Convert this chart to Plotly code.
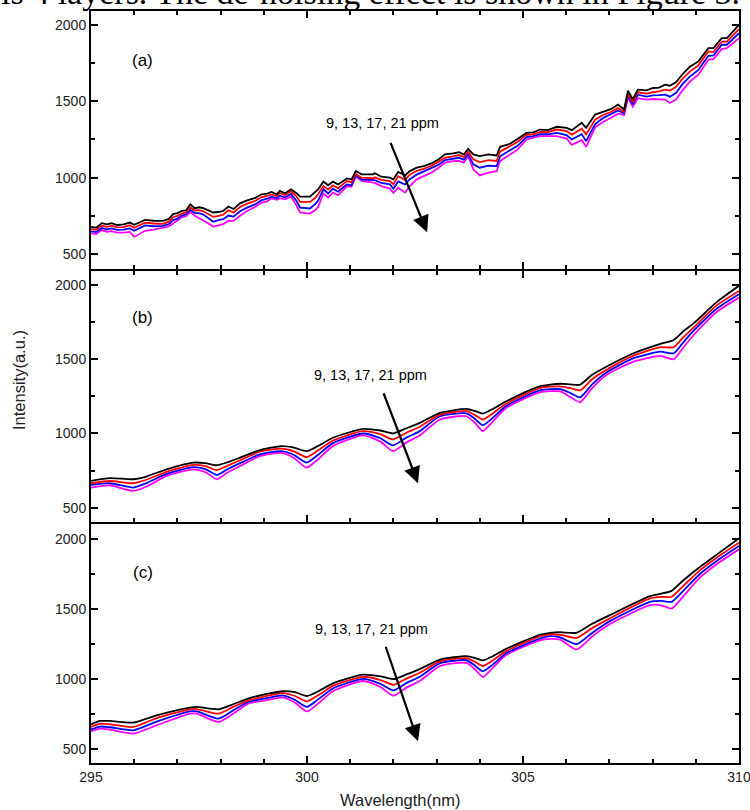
import plotly.graph_objects as go

# ---------------- data ----------------
wl_a = [295.0, 295.12, 295.25, 295.37, 295.48, 295.6, 295.75, 295.9, 296.0, 296.12,
        296.25, 296.45, 296.67, 296.8, 296.9, 297.0, 297.1, 297.2, 297.3, 297.4,
        297.5, 297.6, 297.72, 297.83, 297.95, 298.06, 298.18, 298.3, 298.45, 298.6,
        298.8, 298.95, 299.08, 299.18, 299.3, 299.37, 299.49, 299.63, 299.75, 299.84,
        300.07, 300.2, 300.26, 300.38, 300.49, 300.6, 300.72, 300.92, 301.03, 301.13,
        301.26, 301.4, 301.53, 301.57, 301.72, 301.92, 302.0, 302.11, 302.27, 302.38,
        302.54, 302.7, 302.88, 303.05, 303.19, 303.38, 303.52, 303.63, 303.73, 303.85,
        304.0, 304.2, 304.39, 304.47, 304.7, 304.88, 305.08, 305.24, 305.39, 305.58,
        305.78, 306.01, 306.13, 306.36, 306.46, 306.67, 306.85, 307.03, 307.2, 307.34,
        307.43, 307.54, 307.66, 307.86, 308.01, 308.15, 308.29, 308.4, 308.54, 308.7,
        308.87, 309.06, 309.29, 309.41, 309.6, 309.72, 310.0]
a_9ppm = [678, 672, 702, 694, 702, 690, 694, 706, 691, 705,
          724, 718, 717, 730, 761, 768, 782, 786, 826, 800,
          806, 800, 784, 772, 775, 782, 811, 795, 832, 850,
          868, 891, 896, 906, 891, 913, 898, 924, 900, 876,
          876, 905, 924, 974, 950, 974, 956, 995, 989, 1043,
          1022, 1022, 1022, 1029, 1006, 1000, 989, 1037, 1015, 1043,
          1065, 1075, 1093, 1120, 1152, 1159, 1167, 1152, 1189, 1152,
          1141, 1152, 1145, 1202, 1222, 1254, 1293, 1297, 1315, 1311,
          1333, 1326, 1311, 1359, 1326, 1413, 1430, 1448, 1478, 1446,
          1570, 1513, 1576, 1572, 1587, 1590, 1609, 1602, 1624, 1680,
          1728, 1761, 1848, 1848, 1913, 1913, 2000]
a_13ppm = [663, 658, 686, 678, 686, 675, 676, 688, 672, 686,
           705, 700, 698, 712, 741, 750, 765, 772, 805, 785,
           788, 780, 760, 743, 750, 757, 786, 772, 808, 828,
           848, 873, 880, 890, 878, 898, 885, 911, 880, 841,
           841, 870, 893, 945, 922, 950, 930, 978, 970, 1023,
           1000, 1000, 996, 1002, 985, 978, 956, 1010, 985, 1020,
           1045, 1058, 1078, 1105, 1130, 1140, 1148, 1135, 1170, 1120,
           1102, 1115, 1109, 1170, 1205, 1235, 1280, 1283, 1300, 1298,
           1315, 1305, 1282, 1320, 1283, 1380, 1410, 1430, 1455, 1430,
           1550, 1495, 1559, 1550, 1559, 1565, 1576, 1570, 1594, 1650,
           1696, 1735, 1826, 1822, 1891, 1890, 1972]
a_17ppm = [648, 644, 670, 662, 668, 658, 660, 668, 652, 668,
           687, 682, 684, 696, 722, 732, 752, 760, 790, 768,
           768, 758, 735, 711, 722, 728, 752, 745, 780, 802,
           825, 853, 862, 875, 865, 882, 870, 893, 850, 804,
           798, 830, 852, 924, 896, 928, 908, 955, 950, 1015,
           988, 985, 982, 984, 965, 956, 928, 975, 955, 990,
           1020, 1040, 1059, 1085, 1115, 1125, 1130, 1118, 1155, 1087,
           1065, 1078, 1076, 1140, 1180, 1210, 1265, 1272, 1285, 1284,
           1293, 1278, 1250, 1285, 1239, 1350, 1390, 1413, 1440, 1420,
           1535, 1480, 1543, 1530, 1538, 1540, 1543, 1530, 1554, 1615,
           1663, 1705, 1798, 1800, 1870, 1870, 1946]
a_21ppm = [635, 630, 657, 646, 650, 640, 640, 645, 612, 632,
           652, 660, 670, 680, 700, 718, 740, 748, 776, 750,
           735, 722, 700, 680, 690, 696, 717, 717, 750, 780,
           808, 837, 845, 865, 855, 866, 858, 876, 820, 772,
           765, 790, 810, 896, 870, 902, 885, 941, 941, 1008,
           978, 972, 967, 966, 945, 928, 900, 934, 902, 945,
           989, 1012, 1033, 1065, 1098, 1108, 1109, 1098, 1141, 1054,
           1015, 1033, 1043, 1109, 1152, 1185, 1250, 1262, 1272, 1272,
           1272, 1256, 1215, 1245, 1202, 1330, 1365, 1391, 1419, 1410,
           1522, 1465, 1520, 1511, 1515, 1513, 1511, 1489, 1511, 1575,
           1630, 1674, 1772, 1776, 1841, 1848, 1913]

wl_b = [295.0, 295.44, 295.98, 296.3, 296.75, 297.37, 297.65, 297.91, 298.15, 298.45,
        298.91, 299.41, 299.7, 299.99, 300.25, 300.6, 301.3, 301.7, 301.99, 302.3,
        302.61, 303.08, 303.69, 303.9, 304.07, 304.3, 304.61, 305.39, 305.86, 306.1,
        306.32, 306.6, 306.94, 307.56, 308.18, 308.49, 308.7, 308.95, 309.49, 310.0]
b_9ppm = [681, 699, 692, 712, 759, 804, 800, 786, 805, 837,
          888, 915, 905, 881, 915, 971, 1031, 1020, 1000, 1035,
          1071, 1139, 1165, 1150, 1134, 1165, 1216, 1317, 1335, 1330,
          1328, 1395, 1451, 1540, 1603, 1630, 1685, 1741, 1886, 1994]
b_13ppm = [665, 680, 665, 690, 742, 788, 780, 754, 782, 820,
           877, 898, 880, 841, 885, 952, 1016, 995, 960, 1005,
           1045, 1127, 1150, 1122, 1094, 1135, 1200, 1306, 1317, 1305,
           1290, 1365, 1430, 1524, 1581, 1581, 1645, 1714, 1864, 1960]
b_17ppm = [654, 665, 636, 668, 728, 774, 760, 721, 758, 800,
           859, 881, 855, 804, 855, 935, 1000, 968, 920, 972,
           1016, 1116, 1135, 1095, 1056, 1105, 1185, 1290, 1298, 1272,
           1243, 1330, 1412, 1507, 1551, 1540, 1610, 1692, 1842, 1938]
b_21ppm = [636, 650, 614, 645, 714, 759, 740, 692, 735, 781,
           848, 870, 835, 770, 825, 915, 987, 945, 881, 940,
           987, 1094, 1116, 1068, 1016, 1080, 1172, 1277, 1283, 1245,
           1210, 1305, 1395, 1484, 1522, 1500, 1575, 1663, 1820, 1915]

wl_c = [295.0, 295.21, 295.44, 295.98, 296.52, 297.29, 297.45, 297.95, 298.29, 298.64,
        299.1, 299.45, 299.72, 300.0, 300.25, 300.6, 301.3, 301.7, 302.0, 302.3,
        302.61, 303.08, 303.69, 303.9, 304.07, 304.3, 304.61, 305.39, 305.63, 305.86,
        306.24, 306.6, 307.01, 307.94, 308.2, 308.44, 308.7, 309.1, 309.5, 310.0]
c_9ppm = [676, 700, 700, 688, 740, 795, 800, 783, 819, 860,
          895, 912, 905, 878, 910, 968, 1030, 1018, 998, 1032,
          1070, 1138, 1163, 1148, 1132, 1162, 1214, 1315, 1329, 1333,
          1329, 1393, 1455, 1590, 1608, 1628, 1700, 1800, 1890, 2003]
c_13ppm = [657, 680, 676, 657, 720, 783, 785, 752, 800, 845,
           880, 898, 878, 840, 882, 950, 1015, 992, 958, 1002,
           1044, 1125, 1148, 1120, 1092, 1132, 1198, 1304, 1318, 1315,
           1293, 1362, 1432, 1574, 1585, 1586, 1660, 1776, 1868, 1971]
c_17ppm = [640, 660, 655, 633, 695, 768, 768, 717, 775, 835,
           865, 882, 850, 800, 852, 932, 1000, 965, 918, 970,
           1015, 1112, 1133, 1092, 1054, 1102, 1183, 1288, 1305, 1296,
           1248, 1328, 1412, 1550, 1556, 1550, 1625, 1750, 1845, 1948]
c_21ppm = [626, 645, 638, 610, 669, 752, 752, 693, 752, 824,
           850, 868, 830, 768, 822, 912, 985, 942, 880, 938,
           985, 1092, 1114, 1065, 1014, 1078, 1170, 1275, 1285, 1280,
           1210, 1302, 1391, 1526, 1525, 1502, 1585, 1724, 1822, 1924]

series_names = ["9 ppm", "13 ppm", "17 ppm", "21 ppm"]
series_colors = ["#000000", "#ff0000", "#0000ff", "#ff00ff"]
panel_labels = ["(a)", "(b)", "(c)"]
arrow_text = "9, 13, 17, 21 ppm"
x_ticks = [295, 300, 305, 310]
y_ticks = [500, 1000, 1500, 2000]

panels = [
    (wl_a, [a_9ppm, a_13ppm, a_17ppm, a_21ppm], "linear"),
    (wl_b, [b_9ppm, b_13ppm, b_17ppm, b_21ppm], "spline"),
    (wl_c, [c_9ppm, c_13ppm, c_17ppm, c_21ppm], "spline"),
]

# ---------------- layout geometry ----------------
W, H = 750, 810
ML, MR, MT, MB = 91, 11, 11, 47
plot_w = W - ML - MR
plot_h = H - MT - MB


def py(pix):
    """pixel row -> paper y"""
    return (H - MB - pix) / plot_h


# boundaries between panels at 270 px and 523 px; 2 px gap holds the shared frame line
domains = [[py(269), 1.0], [py(522), py(271)], [0.0, py(524)]]
y_ranges = [[402, 2091], [404, 2094], [400, 2105]]
text_pos = [(301.74, 1361), (301.48, 1395), (301.5, 1355)]
tail_pos = [(301.92, 1237), (301.76, 1281), (301.81, 1240)]
tip_pos = [(302.78, 643), (302.57, 665), (302.57, 555)]
label_pos = [(296.2, 1770), (296.2, 1780), (296.2, 1760)]

FONT = "Liberation Sans, Arial, sans-serif"

fig = go.Figure()
annotations = []
for i, (wl, ys, shape) in enumerate(panels):
    xa = "x" if i == 0 else f"x{i+1}"
    ya = "y" if i == 0 else f"y{i+1}"
    for k in range(3, -1, -1):
        fig.add_trace(go.Scatter(
            x=wl, y=ys[k], mode="lines", name=series_names[k],
            line=dict(color=series_colors[k], width=1.8, shape=shape, smoothing=0.6),
            xaxis=xa, yaxis=ya, showlegend=False, hoverinfo="skip"))
    annotations.append(dict(x=label_pos[i][0], y=label_pos[i][1], xref=xa, yref=ya,
                            text=panel_labels[i], showarrow=False,
                            font=dict(family=FONT, size=17, color="black")))
    annotations.append(dict(x=text_pos[i][0], y=text_pos[i][1], xref=xa, yref=ya,
                            text=arrow_text, showarrow=False,
                            font=dict(family=FONT, size=14.5, color="black")))
    annotations.append(dict(x=tip_pos[i][0], y=tip_pos[i][1], xref=xa, yref=ya,
                            ax=tail_pos[i][0], ay=tail_pos[i][1], axref=xa, ayref=ya,
                            text="", showarrow=True, arrowhead=2, arrowsize=1.5,
                            arrowwidth=2.2, arrowcolor="black", standoff=0))

layout = dict(
    width=W, height=H,
    margin=dict(l=ML, r=MR, t=MT, b=MB, autoexpand=False),
    paper_bgcolor="white", plot_bgcolor="white",
    showlegend=False,
)
for i in range(3):
    xk = "xaxis" if i == 0 else f"xaxis{i+1}"
    yk = "yaxis" if i == 0 else f"yaxis{i+1}"
    ya = "y" if i == 0 else f"y{i+1}"
    xa = "x" if i == 0 else f"x{i+1}"
    layout[xk] = dict(
        domain=[0, 1], anchor=ya, range=[295, 310], automargin=False,
        ticklabeloverflow="allow",
        showline=True, linecolor="black", linewidth=2,
        mirror="ticks" if i < 2 else True,
        ticks="inside", ticklen=7, tickwidth=1.5, tickcolor="black",
        tickvals=x_ticks, ticktext=[str(v) for v in x_ticks],
        showticklabels=(i == 2),
        tickfont=dict(family=FONT, size=14, color="#222222"),
        minor=dict(dtick=1, tick0=295, ticks="inside", ticklen=4, tickwidth=1.5, tickcolor="black"),
        showgrid=False, zeroline=False,
    )
    layout[yk] = dict(
        domain=domains[i], anchor=xa, range=y_ranges[i], automargin=False,
        ticklabeloverflow="allow",
        showline=True, linecolor="black", linewidth=2, mirror="ticks",
        ticks="inside", ticklen=7, tickwidth=1.5, tickcolor="black",
        tickvals=y_ticks, ticktext=[str(v) for v in y_ticks],
        tickfont=dict(family=FONT, size=14, color="#222222"),
        minor=dict(dtick=250, tick0=500, ticks="inside", ticklen=4, tickwidth=1.5, tickcolor="black"),
        showgrid=False, zeroline=False,
    )

annotations.append(dict(
    x=(19 - ML) / plot_w, y=py(380), xref="paper", yref="paper",
    xanchor="center", yanchor="middle",
    text="Intensity(a.u.)", textangle=-90, showarrow=False,
    font=dict(family=FONT, size=16.5, color="#222222")))
annotations.append(dict(
    x=(400 - ML) / plot_w, y=py(800), xref="paper", yref="paper",
    xanchor="center", yanchor="middle",
    text="Wavelength(nm)", showarrow=False,
    font=dict(family=FONT, size=16.5, color="#222222")))
annotations.append(dict(
    x=(-1 - ML) / plot_w, y=py(-7), xref="paper", yref="paper",
    xanchor="left", yanchor="middle",
    text="is 4 layers. The de-noising effect is shown in Figure 3.", showarrow=False,
    font=dict(family="Liberation Serif, Times New Roman, serif", size=34, color="black")))
layout["annotations"] = annotations

fig.update_layout(**layout)
fig.write_html("out.html")
